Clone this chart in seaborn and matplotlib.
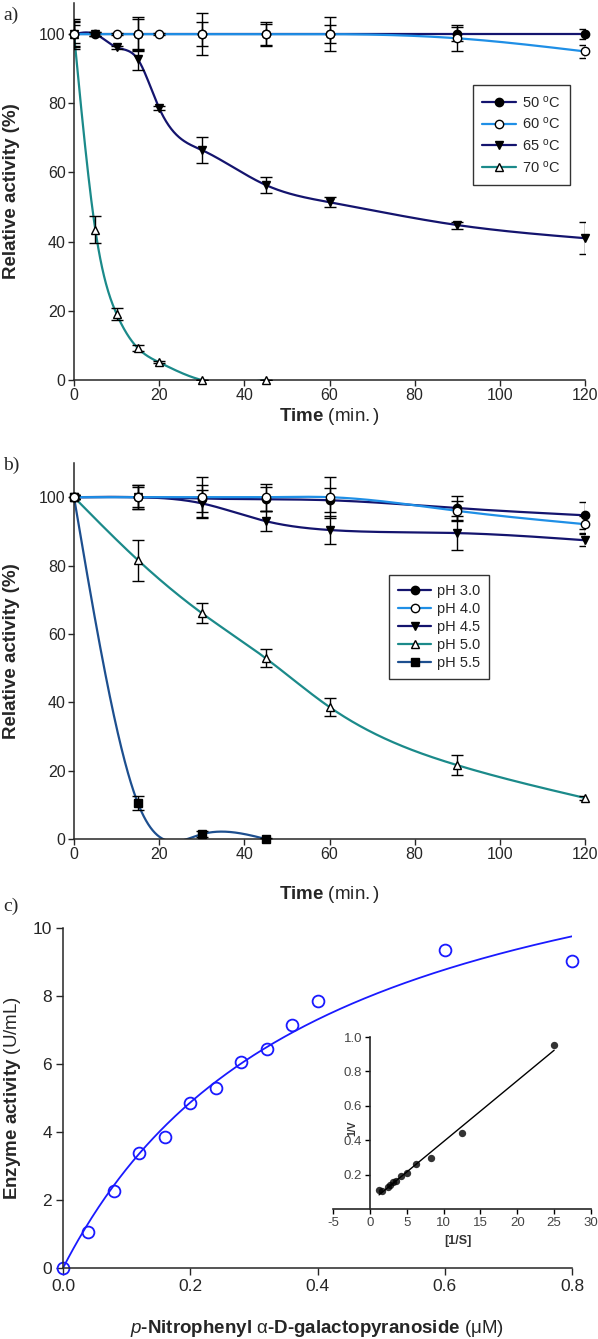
import numpy as np
import seaborn as sns
import matplotlib
matplotlib.use('Agg')
import matplotlib.pyplot as plt
from matplotlib.lines import Line2D

# ---- panel a: thermal stability ----
time_50 = [0, 5, 15, 30, 45, 60, 90, 120]
act_50 = [100, 100, 100, 100, 100, 100, 100, 100]
err_50 = [4.3, 0.5, 4.5, 3.5, 3.0, 2.5, 2.0, 1.5]

time_60 = [0, 10, 15, 20, 30, 45, 60, 90, 120]
act_60 = [100, 100, 100, 100, 100, 100, 100, 98.8, 95.0]
err_60 = [3.5, 0.3, 5.0, 0.3, 6.0, 3.5, 5.0, 3.8, 1.8]

time_65 = [0, 5, 10, 15, 20, 30, 45, 60, 90, 120]
act_65 = [100, 100, 96.2, 92.7, 78.6, 66.5, 56.4, 51.4, 44.8, 41.0]
err_65 = [2.5, 0.5, 0.5, 3.0, 0.5, 3.7, 2.4, 1.5, 1.0, 4.7]

time_70 = [0, 5, 10, 15, 20, 30, 45]
act_70 = [100, 43.5, 19.1, 9.2, 5.1, 0, 0]
err_70 = [3.8, 3.8, 1.7, 0.8, 0.3, 0, 0]

# ---- panel b: pH stability ----
ph_time = [0, 15, 30, 45, 60, 90, 120]
act_ph30 = [100, 100, 99.6, 99.4, 99.1, 96.8, 94.7]
err_ph30 = [0.5, 3.5, 4.0, 3.5, 3.5, 3.5, 4.0]
act_ph40 = [100, 100, 100, 100, 100, 96.0, 92.1]
err_ph40 = [0.5, 3.0, 6.0, 4.0, 6.0, 3.0, 2.5]
act_ph45 = [100, 100, 98.2, 93.0, 90.4, 89.5, 87.4]
err_ph45 = [0.5, 3.5, 4.0, 3.0, 4.0, 5.0, 1.7]
act_ph50 = [100, 81.6, 66.1, 52.9, 38.6, 21.6, 12.0]
err_ph50 = [0.5, 6.0, 3.0, 2.7, 2.6, 3.0, 0.6]
time_ph55 = [0, 15, 30, 45]
act_ph55 = [100, 10.5, 1.4, 0]
err_ph55 = [0.5, 2.0, 0.8, 0.3]

# ---- panel c: kinetics ----
substrate = [0, 0.04, 0.08, 0.12, 0.16, 0.20, 0.24, 0.28, 0.32, 0.36, 0.40, 0.60, 0.80]
enzyme = [0, 1.05, 2.27, 3.37, 3.84, 4.84, 5.28, 6.07, 6.43, 7.14, 7.85, 9.35, 9.03]

NAVY = '#14146e'
LIGHT = '#1f8fe6'
TEAL = '#1b8a8a'
DKBLUE = '#1d4f8f'
MBLUE = '#1a1aff'

sns.set_style('ticks')
plt.rcParams['font.family'] = ['Liberation Sans', 'DejaVu Sans']
plt.rcParams['mathtext.fontset'] = 'custom'
plt.rcParams['mathtext.rm'] = 'Liberation Sans'
plt.rcParams['mathtext.it'] = 'Liberation Sans:italic'
plt.rcParams['mathtext.bf'] = 'Liberation Sans:bold'
plt.rcParams['axes.linewidth'] = 1.1
plt.rcParams['axes.unicode_minus'] = False


def natural_spline(x, y, n=600):
    """Natural cubic spline through the points (the smooth curves in a and b)."""
    x = np.asarray(x, float)
    y = np.asarray(y, float)
    k = len(x)
    h = np.diff(x)
    A = np.zeros((k, k))
    b = np.zeros(k)
    A[0, 0] = A[-1, -1] = 1
    for i in range(1, k - 1):
        A[i, i - 1] = h[i - 1]
        A[i, i] = 2 * (h[i - 1] + h[i])
        A[i, i + 1] = h[i]
        b[i] = 6 * ((y[i + 1] - y[i]) / h[i] - (y[i] - y[i - 1]) / h[i - 1])
    M = np.linalg.solve(A, b)
    xs = np.linspace(x[0], x[-1], n)
    idx = np.clip(np.searchsorted(x, xs) - 1, 0, k - 2)
    hh = x[idx + 1] - x[idx]
    a = (x[idx + 1] - xs) / hh
    c = (xs - x[idx]) / hh
    ys = a * y[idx] + c * y[idx + 1] + ((a ** 3 - a) * M[idx] + (c ** 3 - c) * M[idx + 1]) * hh ** 2 / 6
    return xs, ys


def plot_series(ax, x, y, err, color, marker, filled):
    xs, ys = natural_spline(x, y)
    sns.lineplot(x=xs, y=ys, ax=ax, color=color, linewidth=1.6, estimator=None, sort=False, zorder=2)
    ax.errorbar(x, y, yerr=err, fmt='none', ecolor='black', elinewidth=1.0, capsize=4, capthick=1.0, zorder=3)
    ax.plot(x, y, ls='none', marker=marker, ms=6, mfc='black' if filled else 'white',
            mec='black', mew=1.0, zorder=4, clip_on=False)


def legend_handle(color, marker, filled):
    return Line2D([], [], color=color, lw=1.6, marker=marker, ms=6,
                  mfc='black' if filled else 'white', mec='black', mew=1.0)


def style_time_axis(ax, ymax):
    ax.set_xlim(0, 120)
    ax.set_ylim(0, ymax)
    ax.set_xticks(range(0, 121, 20))
    ax.set_yticks(range(0, 101, 20))
    ax.tick_params(direction='out', length=4, width=1, pad=2, labelsize=11.5)
    sns.despine(ax=ax)
    ax.set_ylabel('Relative activity (%)', fontsize=13.5, fontweight='bold')
    ax.yaxis.set_label_coords(-0.106, 0.5)
    ax.set_xlabel(r'Time $\mathrm{(min.)}$', fontsize=13.5, fontweight='bold', va='top')


fig = plt.figure(figsize=(5.98, 13.39), dpi=100)
W, H = 598, 1339

# ---------------- a) ----------------
ax_a = fig.add_axes([74 / W, 1 - 380 / H, 511 / W, 377 / H])
plot_series(ax_a, time_70, act_70, err_70, TEAL, '^', False)
plot_series(ax_a, time_65, act_65, err_65, NAVY, 'v', True)
plot_series(ax_a, time_50, act_50, err_50, NAVY, 'o', True)
plot_series(ax_a, time_60, act_60, err_60, LIGHT, 'o', False)
style_time_axis(ax_a, 109)
ax_a.xaxis.set_label_coords(0.5, -0.068)
handles = [legend_handle(NAVY, 'o', True), legend_handle(LIGHT, 'o', False),
           legend_handle(NAVY, 'v', True), legend_handle(TEAL, '^', False)]
labels = [r'50 $^{\mathrm{o}}$C', r'60 $^{\mathrm{o}}$C', r'65 $^{\mathrm{o}}$C', r'70 $^{\mathrm{o}}$C']
leg = ax_a.legend(handles, labels, loc='upper left', bbox_to_anchor=(473 / W, 1 - 85 / H),
                  bbox_transform=fig.transFigure, borderaxespad=0, fontsize=10.5, handlelength=2.3,
                  handletextpad=0.4, labelspacing=0.38, borderpad=0.65, fancybox=False)
leg.get_frame().set_edgecolor('black')
leg.get_frame().set_linewidth(1.0)

# ---------------- b) ----------------
ax_b = fig.add_axes([74 / W, 1 - 839 / H, 511 / W, 376 / H])
plot_series(ax_b, time_ph55, act_ph55, err_ph55, DKBLUE, 's', True)
plot_series(ax_b, ph_time, act_ph50, err_ph50, TEAL, '^', False)
plot_series(ax_b, ph_time, act_ph45, err_ph45, NAVY, 'v', True)
plot_series(ax_b, ph_time, act_ph30, err_ph30, NAVY, 'o', True)
plot_series(ax_b, ph_time, act_ph40, err_ph40, LIGHT, 'o', False)
style_time_axis(ax_b, 110)
ax_b.xaxis.set_label_coords(0.5, -0.12)
handles = [legend_handle(NAVY, 'o', True), legend_handle(LIGHT, 'o', False),
           legend_handle(NAVY, 'v', True), legend_handle(TEAL, '^', False),
           legend_handle(DKBLUE, 's', True)]
labels = ['pH 3.0', 'pH 4.0', 'pH 4.5', 'pH 5.0', 'pH 5.5']
leg = ax_b.legend(handles, labels, loc='upper left', bbox_to_anchor=(389 / W, 1 - 575 / H),
                  bbox_transform=fig.transFigure, borderaxespad=0, fontsize=10.5, handlelength=2.3,
                  handletextpad=0.4, labelspacing=0.28, borderpad=0.6, fancybox=False)
leg.get_frame().set_edgecolor('black')
leg.get_frame().set_linewidth(1.0)

# ---------------- c) ----------------
ax_c = fig.add_axes([63 / W, 1 - 1268 / H, 509 / W, 340 / H])
S = np.asarray(substrate)
V = np.asarray(enzyme)
# least-squares Michaelis-Menten fit (grid over Km, Vmax solved linearly)
best = None
for km in np.linspace(0.02, 3, 3000):
    f = S / (km + S)
    vmax = (f @ V) / (f @ f)
    sse = np.sum((V - vmax * f) ** 2)
    if best is None or sse < best[0]:
        best = (sse, km, vmax)
_, km, vmax = best
s_fit = np.linspace(0, S.max(), 300)
sns.lineplot(x=s_fit, y=vmax * s_fit / (km + s_fit), ax=ax_c, color=MBLUE, linewidth=1.3,
             estimator=None, sort=False)
ax_c.plot(S, V, ls='none', marker='o', ms=8.5, mfc='none', mec=MBLUE, mew=1.3, clip_on=False)
ax_c.set_xlim(0, 0.8)
ax_c.set_ylim(0, 10)
ax_c.set_xticks([0, 0.2, 0.4, 0.6, 0.8])
ax_c.set_yticks(range(0, 11, 2))
ax_c.set_xticklabels(['0.0', '0.2', '0.4', '0.6', '0.8'])
ax_c.tick_params(direction='out', length=5, width=1, pad=3, labelsize=12.5)
sns.despine(ax=ax_c)
ax_c.set_ylabel(r'Enzyme activity $\mathrm{(U/mL)}$', fontsize=13.5, fontweight='bold')
ax_c.yaxis.set_label_coords(-0.078, 0.5)
ax_c.set_xlabel(r'$\mathit{p}$-Nitrophenyl $\mathrm{\alpha}$-D-galactopyranoside $\mathrm{(\mu M)}$',
                fontsize=13.5, fontweight='bold', va='top')
ax_c.xaxis.set_label_coords(0.5, -0.147)

# inset: Lineweaver-Burk
ax_in = fig.add_axes([333 / W, 1 - 1209 / H, 258 / W, 172 / H])
inv_s = 1 / S[1:]
inv_v = 1 / V[1:]
sns.regplot(x=inv_s, y=inv_v, ax=ax_in, ci=None, truncate=True,
            scatter_kws=dict(s=28, color='black', linewidths=0, zorder=3),
            line_kws=dict(color='black', linewidth=1.0))
ax_in.set_xlim(-5, 30)
ax_in.set_ylim(0, 1.0)
ax_in.set_xticks(range(-5, 31, 5))
ax_in.set_yticks([0.2, 0.4, 0.6, 0.8, 1.0])
ax_in.set_yticklabels(['0.2', '0.4', '0.6', '0.8', '1.0'])
for side in ['top', 'right']:
    ax_in.spines[side].set_visible(False)
ax_in.spines['left'].set_position(('data', 0))
ax_in.spines['left'].set_linewidth(1.2)
ax_in.spines['bottom'].set_linewidth(1.2)
ax_in.tick_params(direction='out', length=3.5, width=1, pad=2, labelsize=9.5,
                  colors='black', labelcolor='#444444')
ax_in.patch.set_alpha(0)
fig.text(352 / W, 1 - 1128 / H, '1/V', rotation=90, fontsize=7.5, fontweight='bold',
         ha='center', va='center', color='#333333')
fig.text(458 / W, 1 - 1241 / H, '[1/S]', fontsize=9, fontweight='bold',
         ha='center', va='center', color='#333333')

# panel letters
for letter, yp in [('a)', 15), ('b)', 465), ('c)', 906)]:
    fig.text(3 / W, 1 - yp / H, letter, family='Liberation Serif', fontsize=14, va='center', ha='left')

fig.savefig('out.png', dpi=100)
